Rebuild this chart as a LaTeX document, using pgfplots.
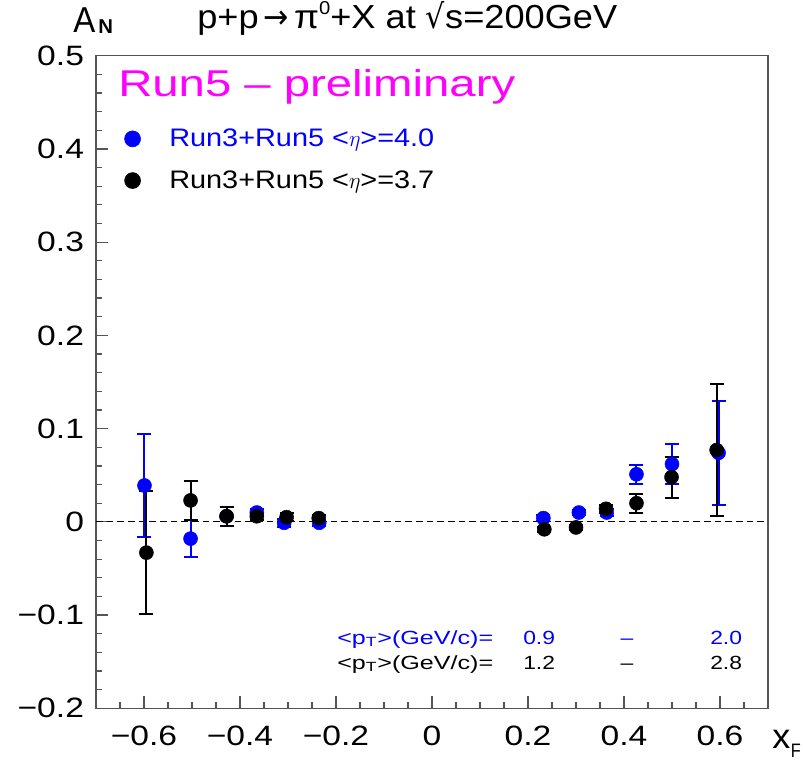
\documentclass[border=0pt]{standalone}
\usepackage{pgfplots}
\pgfplotsset{compat=1.18}
\usepackage{pgfplotstable}
\usepackage{graphicx}
\usepackage{fontspec}
\setmainfont{Liberation Sans}[FakeStretch=1.2]
\newfontfamily\symfont{DejaVu Sans}
\definecolor{rblue}{RGB}{0,0,255}
\definecolor{rmag}{RGB}{255,0,255}
\definecolor{frm}{RGB}{85,85,85}
\newcommand\fs[1]{\fontsize{#1}{#1}\selectfont}
\newcommand\wbox[2]{\resizebox{#1}{\height}{#2}}

\pgfplotstableread{
x y e
-0.599 0.039 0.055
-0.503 -0.018 0.020
-0.428 0.006 0.010
-0.365 0.010 0.004
-0.308 -0.001 0.004
-0.235 -0.001 0.003
0.232 0.004 0.003
0.306 0.010 0.003
0.364 0.010 0.004
0.426 0.051 0.010
0.500 0.062 0.021
0.597 0.074 0.056
}\bluedata

\pgfplotstableread{
x y e
-0.595 -0.033 0.066
-0.503 0.023 0.021
-0.428 0.006 0.010
-0.365 0.006 0.004
-0.303 0.005 0.004
-0.236 0.004 0.003
0.234 -0.008 0.003
0.300 -0.006 0.003
0.3625 0.014 0.004
0.426 0.020 0.010
0.499 0.048 0.022
0.593 0.077 0.071
}\blackdata

\begin{document}
\begin{tikzpicture}
\useasboundingbox (-72pt,-39.525pt) rectangle (530.25pt,531.225pt);
\begin{axis}[
  at={(0,0)}, anchor=south west,
  scale only axis, width=504pt, height=489.45pt,
  xmin=-0.7, xmax=0.7, ymin=-0.2, ymax=0.5,
  xtick={-0.6,-0.4,-0.2,0,0.2,0.4,0.6},
  xticklabels={−0.6,−0.4,−0.2,0,0.2,0.4,0.6},
  minor xtick={-0.65,-0.6,-0.55,-0.5,-0.45,-0.4,-0.35,-0.3,-0.25,-0.2,-0.15,-0.1,-0.05,0,0.05,0.1,0.15,0.2,0.25,0.3,0.35,0.4,0.45,0.5,0.55,0.6,0.65},
  ytick={-0.2,-0.1,0,0.1,0.2,0.3,0.4,0.5},
  yticklabels={−0.2,−0.1,0,0.1,0.2,0.3,0.4,0.5},
  minor ytick={-0.18,-0.16,-0.14,-0.12,-0.08,-0.06,-0.04,-0.02,0.02,0.04,0.06,0.08,0.12,0.14,0.16,0.18,0.22,0.24,0.26,0.28,0.32,0.34,0.36,0.38,0.42,0.44,0.46,0.48},
  tick pos=left,
  tick align=inside,
  major tick length=9pt, minor tick length=4.5pt,
  axis line style={frm, line width=1pt},
  every tick/.style={frm, line width=0.9pt},
  ticklabel style={font=\fs{21pt}},
  yticklabel style={xshift=-5.5pt},
  xticklabel style={yshift=-9.5pt},
  legend style={at={(axis cs:-0.641,0.4245)}, anchor=north west, draw=none, fill=none,
    inner sep=0pt, row sep=12.5pt, font=\fs{19pt}, column sep=0pt},
  legend cell align=left,
  legend image post style={mark size=6pt},
]
\addplot[black, dash pattern=on 5pt off 3pt, line width=0.75pt, forget plot] coordinates {(-0.7,0) (0.7,0)};

\addplot[rblue, only marks, mark=*, mark size=5.25pt,
  mark options={fill=rblue, draw=rblue},
  error bars/.cd, y dir=both, y explicit,
  error bar style={line width=1.5pt, rblue},
  error mark options={rblue, mark size=5.25pt, line width=1.5pt, rotate=90}]
  table[x=x, y=y, y error=e] {\bluedata};
\addlegendentry{\hspace{19.5pt}\wbox{198.75pt}{\textcolor{rblue}{Run3+Run5 <$\eta$>=4.0}}}

\addplot[black, only marks, mark=*, mark size=5.25pt,
  mark options={fill=black, draw=black},
  error bars/.cd, y dir=both, y explicit,
  error bar style={line width=1.5pt, black},
  error mark options={black, mark size=5.25pt, line width=1.5pt, rotate=90}]
  table[x=x, y=y, y error=e] {\blackdata};
\addlegendentry{\hspace{19.5pt}\wbox{198.75pt}{Run3+Run5 <$\eta$>=3.7}}
\end{axis}

\begin{scope}[shift={(-72pt,531.225pt)}, x=0.75pt, y=-0.75pt]
  \node[anchor=base west, inner sep=0pt] at (73,33) {\wbox{16.5pt}{\fs{27pt}A}};
  \node[anchor=base west, inner sep=0pt] at (98,34) {\wbox{11pt}{\fs{15pt}\bfseries N}};
  \node[anchor=base west, inner sep=0pt] at (197,29) {\wbox{315pt}{\fs{25pt}p+p\,{\symfont →}\,π\raisebox{0.42em}{\fs{14pt}0}+X at {\symfont √}s=200GeV}};
  \node[anchor=base west, inner sep=0pt, text=rmag] at (118,97) {\wbox{297.75pt}{\fs{28pt}Run5 – preliminary}};
  \node[anchor=base west, inner sep=0pt, text=rblue] at (337,644) {\wbox{117pt}{\fs{14.3pt}<p\textsubscript{T}>(GeV/c)=}};
  \node[anchor=base west, inner sep=0pt, text=rblue] at (523,644) {\fs{14.3pt}0.9};
  \node[anchor=base, inner sep=0pt, text=rblue] at (627,644) {\fs{14.3pt}–};
  \node[anchor=base west, inner sep=0pt, text=rblue] at (710,644) {\fs{14.3pt}2.0};
  \node[anchor=base west, inner sep=0pt] at (337,669) {\wbox{117pt}{\fs{14.3pt}<p\textsubscript{T}>(GeV/c)=}};
  \node[anchor=base west, inner sep=0pt] at (523,669) {\fs{14.3pt}1.2};
  \node[anchor=base, inner sep=0pt] at (627,669) {\fs{14.3pt}–};
  \node[anchor=base west, inner sep=0pt] at (710,669) {\fs{14.3pt}2.8};
  \node[anchor=base west, inner sep=0pt] at (772,748) {\wbox{13.5pt}{\fs{26pt}x}};
  \node[anchor=base west, inner sep=0pt] at (790.5,757) {\wbox{7.5pt}{\fs{14.6pt}F}};
\end{scope}
\end{tikzpicture}
\end{document}
